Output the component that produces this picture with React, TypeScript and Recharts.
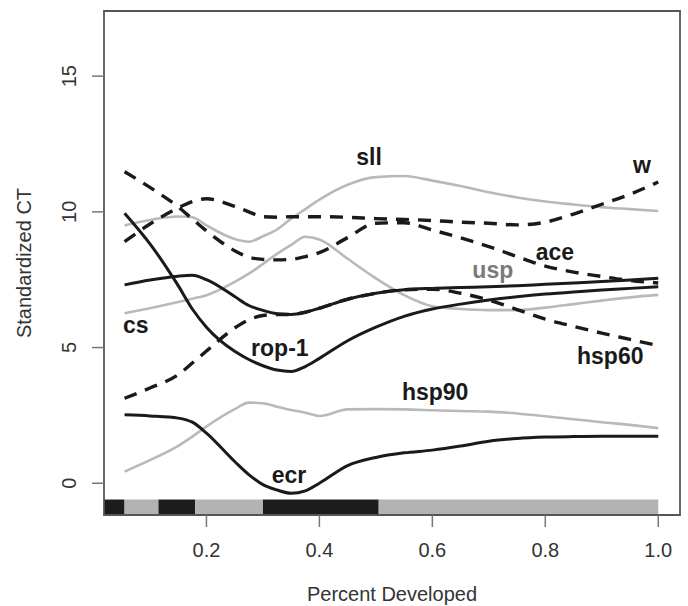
import React from 'react';
import {
  ComposedChart,
  Line,
  XAxis,
  YAxis,
  ReferenceArea,
  Scatter,
  Label,
} from 'recharts';

// ---- data ----
const xGrid = [0.055, 0.1, 0.15, 0.175, 0.2, 0.25, 0.275, 0.3, 0.325, 0.35, 0.375, 0.4, 0.45, 0.5, 0.55, 0.6, 0.65, 0.7, 0.75, 0.8, 0.85, 0.9, 0.95, 1.0];

const sll = [9.5, 9.7, 9.83, 9.8, 9.5, 9.0, 8.9, 9.1, 9.35, 9.75, 10.1, 10.45, 11.0, 11.28, 11.32, 11.15, 10.95, 10.72, 10.53, 10.38, 10.27, 10.17, 10.1, 10.03];
const cs = [6.26, 6.45, 6.68, 6.8, 6.93, 7.42, 7.72, 8.08, 8.45, 8.78, 9.08, 8.98, 8.27, 7.55, 6.93, 6.52, 6.42, 6.38, 6.38, 6.47, 6.6, 6.73, 6.85, 6.94];
const hsp90 = [0.43, 0.85, 1.38, 1.72, 2.09, 2.73, 2.97, 2.95, 2.82, 2.7, 2.6, 2.48, 2.72, 2.73, 2.72, 2.69, 2.66, 2.64, 2.57, 2.47, 2.36, 2.25, 2.15, 2.03];
const rop1 = [9.95, 8.82, 7.28, 6.42, 5.75, 4.86, 4.56, 4.33, 4.17, 4.12, 4.3, 4.6, 5.25, 5.75, 6.15, 6.42, 6.6, 6.75, 6.87, 6.97, 7.05, 7.12, 7.18, 7.24];
const usp = [7.31, 7.49, 7.63, 7.66, 7.5, 6.88, 6.55, 6.37, 6.25, 6.22, 6.3, 6.45, 6.78, 7.0, 7.13, 7.18, 7.21, 7.24, 7.28, 7.33, 7.38, 7.43, 7.49, 7.55];
const ecr = [2.52, 2.48, 2.4, 2.25, 1.85, 0.8, 0.32, -0.05, -0.25, -0.37, -0.28, 0.0, 0.65, 0.95, 1.12, 1.22, 1.37, 1.55, 1.65, 1.7, 1.72, 1.73, 1.73, 1.73];
const hsp60 = [3.13, 3.51, 4.0, 4.43, 4.87, 5.72, 6.02, 6.18, 6.22, 6.22, 6.3, 6.45, 6.78, 7.0, 7.13, 7.15, 7.0, 6.75, 6.4, 6.05, 5.78, 5.53, 5.3, 5.07];
const ace = [11.48, 10.9, 10.18, 9.74, 9.3, 8.57, 8.33, 8.25, 8.23, 8.25, 8.35, 8.5, 9.05, 9.58, 9.6, 9.33, 9.04, 8.72, 8.35, 8.0, 7.78, 7.62, 7.47, 7.38];
const w = [8.9, 9.55, 10.15, 10.38, 10.48, 10.2, 10.0, 9.82, 9.8, 9.82, 9.82, 9.82, 9.8, 9.75, 9.72, 9.68, 9.62, 9.58, 9.52, 9.62, 9.92, 10.28, 10.65, 11.1];

const labelNames = ['sll', 'w', 'ace', 'usp', 'cs', 'rop-1', 'hsp60', 'hsp90', 'ecr'];
const labelX = [0.488, 0.971, 0.817, 0.707, 0.075, 0.33, 0.915, 0.605, 0.346];
const labelY = [11.73, 11.43, 8.23, 7.56, 5.54, 4.68, 4.41, 3.08, 0.01];

const xMin = 0.0186;
const xMax = 1.0385;
const yMin = -1.17;
const yMax = 17.4;
const xTicks = [0.2, 0.4, 0.6, 0.8, 1.0];
const yTicks = [0, 5, 10, 15];

const stageStart = [xMin, 0.055, 0.115, 0.18, 0.3, 0.505];
const stageEnd = [0.055, 0.115, 0.18, 0.3, 0.505, 1.0];
const stageKind = ['dark', 'light', 'dark', 'light', 'dark', 'light'];
const stageTop = -0.6;

// ---- build tables ----
const rows = xGrid.map((x, i) => ({
  x,
  sll: sll[i],
  cs: cs[i],
  hsp90: hsp90[i],
  rop1: rop1[i],
  usp: usp[i],
  ecr: ecr[i],
  hsp60: hsp60[i],
  ace: ace[i],
  w: w[i],
}));

const labelRows = labelNames.map((name, i) => ({ x: labelX[i], y: labelY[i], name }));

const FONT = '"Liberation Sans", Arial, Helvetica, sans-serif';
const BLACK = '#1a1a1a';
const GRAY = '#b9b9b9';

const XTick = (props: any) => {
  const { x, y, payload } = props;
  return (
    <text x={x} y={y + 30} textAnchor="middle" fontFamily={FONT} fontSize={20} fill="#333">
      {Number(payload.value).toFixed(1)}
    </text>
  );
};

const YTick = (props: any) => {
  const { x, y, payload } = props;
  const bx = x - 16;
  return (
    <text
      x={bx}
      y={y}
      transform={`rotate(-90, ${bx}, ${y})`}
      textAnchor="middle"
      fontFamily={FONT}
      fontSize={20}
      fill="#333"
    >
      {payload.value}
    </text>
  );
};

const LabelShape = (props: any) => {
  const { cx, cy, payload } = props;
  const isUsp = payload.name === 'usp';
  return (
    <text
      x={cx}
      y={cy}
      textAnchor="middle"
      fontFamily={FONT}
      fontWeight="bold"
      fontSize={23}
      fill={isUsp ? '#7a7a7a' : BLACK}
    >
      {payload.name}
    </text>
  );
};

export default function App() {
  const grayLines = ['sll', 'cs', 'hsp90'];
  const dashLines = ['ace', 'w', 'hsp60'];
  const blackLines = ['rop1', 'usp', 'ecr'];
  return (
    <div style={{ position: 'absolute', left: 0, top: 0, background: '#fff' }}>
      <ComposedChart
        width={688}
        height={606}
        data={rows}
        margin={{ top: 11, right: 8, bottom: 0, left: 0 }}
      >
        <XAxis
          dataKey="x"
          type="number"
          domain={[xMin, xMax]}
          ticks={xTicks}
          allowDataOverflow
          height={91}
          tickSize={12}
          tickMargin={0}
          axisLine={false}
          tickLine={{ stroke: '#777', strokeWidth: 1.5 }}
          tick={<XTick />}
        >
          <Label
            content={(p: any) => (
              <text
                x={p.viewBox.x + p.viewBox.width / 2}
                y={601}
                textAnchor="middle"
                fontFamily={FONT}
                fontSize={20}
                fill="#333"
              >
                Percent Developed
              </text>
            )}
          />
        </XAxis>
        <YAxis
          type="number"
          domain={[yMin, yMax]}
          ticks={yTicks}
          allowDataOverflow
          width={104}
          tickSize={12}
          tickMargin={0}
          axisLine={false}
          tickLine={{ stroke: '#777', strokeWidth: 1.5 }}
          tick={<YTick />}
        >
          <Label
            content={(p: any) => {
              const cy = p.viewBox.y + p.viewBox.height / 2;
              return (
                <text
                  x={31}
                  y={cy}
                  transform={`rotate(-90, 31, ${cy})`}
                  textAnchor="middle"
                  fontFamily={FONT}
                  fontSize={20}
                  fill="#333"
                >
                  Standardized CT
                </text>
              );
            }}
          />
        </YAxis>

        {stageStart.map((s, i) => (
          <ReferenceArea
            key={'st' + i}
            x1={s}
            x2={stageEnd[i]}
            y1={yMin}
            y2={stageTop}
            fill={stageKind[i] === 'dark' ? '#1c1c1c' : '#b3b3b3'}
            fillOpacity={1}
            stroke="none"
            ifOverflow="extendDomain"
          />
        ))}

        {grayLines.map((k) => (
          <Line
            key={k}
            dataKey={k}
            type="monotone"
            stroke={GRAY}
            strokeWidth={2.6}
            dot={false}
            isAnimationActive={false}
          />
        ))}
        {dashLines.map((k) => (
          <Line
            key={k}
            dataKey={k}
            type="monotone"
            stroke={BLACK}
            strokeWidth={3.4}
            strokeDasharray="13 9"
            dot={false}
            isAnimationActive={false}
          />
        ))}
        {blackLines.map((k) => (
          <Line
            key={k}
            dataKey={k}
            type="monotone"
            stroke={BLACK}
            strokeWidth={3}
            dot={false}
            isAnimationActive={false}
          />
        ))}

        <Scatter
          data={labelRows}
          dataKey="y"
          shape={<LabelShape />}
          isAnimationActive={false}
        />

        <ReferenceArea
          x1={xMin}
          x2={xMax}
          y1={yMin}
          y2={yMax}
          fill="none"
          fillOpacity={0}
          stroke="#555"
          strokeWidth={1.8}
        />
      </ComposedChart>
    </div>
  );
}
